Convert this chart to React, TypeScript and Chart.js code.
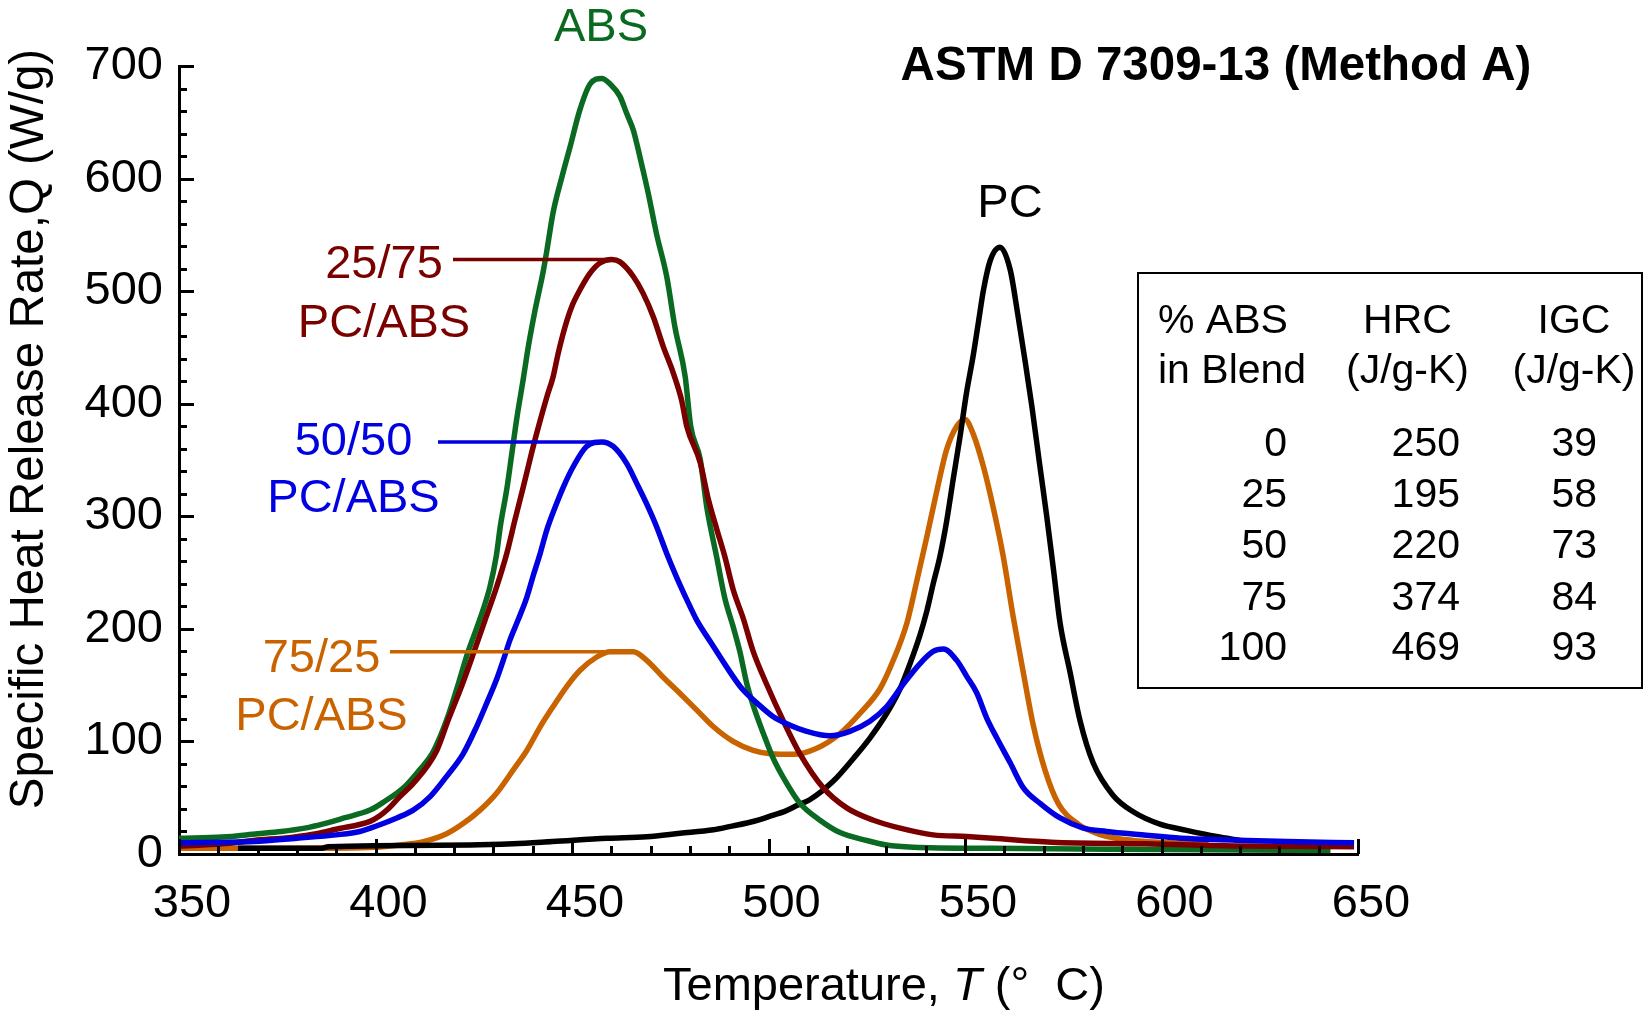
import { useEffect, useRef } from "react";
import { Chart, registerables } from "chart.js";

Chart.register(...registerables);

// ---------------- data ----------------
const T_ABS = [350, 361, 370, 376, 382, 387, 392, 398.6, 402, 407.5, 411.3, 414.7, 418.1, 420.8, 423.3, 426.6, 429.1, 430.7, 431.8, 433.4, 434.7, 436.0, 437.6, 438.9, 440.6, 442.7, 443.6, 445.2, 447.4, 449.5, 452.0, 454.6, 457.6, 459.7, 462.2, 463.9, 465.6, 466.9, 468.1, 469.4, 471.5, 474.1, 476.2, 478.8, 480.2, 482.6, 484.3, 486.8, 488.9, 491.0, 492.7, 494.5, 496.1, 498.7, 501.2, 504.6, 508.0, 513.1, 518.2, 525, 530, 536.8, 557, 600, 643];
const Q_ABS = [14, 15, 18, 20, 23, 27, 32, 39, 46, 60, 75, 91, 119, 148, 177, 209, 237, 264, 292, 324, 356, 388, 422, 451, 483, 518, 536, 570, 601, 628, 661, 684, 689, 684, 673, 658, 643, 625, 607, 587, 551, 513, 468, 424, 380, 351, 308, 264, 227, 202, 180, 151, 132, 107, 85, 63, 45, 30, 19, 12, 8, 6, 5, 4, 3];

const T_2575 = [350, 361, 369, 379, 385, 390, 398.6, 401.1, 402.9, 406.2, 409.7, 415.6, 418.5, 421.9, 424.9, 427.9, 430.8, 433.4, 435.5, 437.6, 439.7, 441.9, 443.6, 445.2, 446.5, 448.2, 449.9, 452.0, 454.6, 457.1, 460.1, 462.2, 465.6, 468.1, 470.7, 473.2, 475.8, 477.9, 479.2, 482.6, 484.7, 486.8, 488.9, 491.0, 493.6, 496.1, 499.5, 503.8, 508.0, 513.9, 519.9, 526.7, 533.5, 541.9, 550.4, 557, 572, 596, 620, 649];
const Q_2575 = [7, 9, 12, 15, 18, 22, 29, 34, 39, 51, 63, 92, 119, 149, 178, 208, 237, 267, 297, 326, 356, 385, 406, 424, 445, 468, 486, 501, 516, 525, 528, 526, 513, 498, 477, 451, 427, 403, 380, 348, 315, 289, 264, 235, 209, 180, 151, 118, 89, 59, 41, 30, 23, 17, 15.5, 14, 10.5, 9, 7, 6.5];

const T_5050 = [350, 369, 380, 390, 396, 401.1, 405.4, 409.6, 413.9, 418.1, 422.3, 425.7, 428.3, 430.8, 432.5, 434.2, 436.3, 438.5, 440.2, 441.9, 443.6, 445.7, 447.8, 450.3, 453.7, 457.6, 460.5, 463.9, 466.5, 469.0, 471.5, 474.1, 476.6, 479.2, 481.7, 485.5, 489.0, 493.0, 497.4, 501.2, 504.5, 509.7, 515.6, 520.7, 525.8, 530.1, 534.3, 538.5, 541.9, 544.5, 547.9, 550.4, 553.0, 555.5, 558.1, 561.5, 564.8, 569.1, 574.2, 580.1, 586, 595, 605, 618, 632, 649];
const Q_5050 = [10, 11, 14, 17, 20, 26, 32, 39, 51, 69, 89, 113, 134, 155, 172, 190, 208, 228, 248, 267, 288, 308, 326, 344, 362, 366, 362, 347, 329, 311, 291, 267, 246, 226, 208, 187, 168, 148, 133, 122, 116, 109, 105, 109, 118, 131, 151, 169, 180, 182, 172, 158, 143, 121, 103, 81, 59, 45, 32, 23, 20, 17, 14, 12.5, 11, 10];

const T_7525 = [350, 380, 400, 406.2, 412.2, 418.1, 422.3, 426.6, 430.8, 435.1, 438.5, 441.9, 445.2, 448.7, 452.0, 456.3, 459.7, 465.6, 469.0, 473.2, 477.5, 481.7, 486.0, 491.0, 496.1, 500.4, 506.3, 512.3, 518.2, 523.3, 528.4, 531.8, 535.2, 537.7, 540.3, 542.8, 545.3, 547.9, 550.0, 552.1, 554.7, 557.2, 559.7, 562.3, 564.8, 567.4, 570.4, 573.7, 578.8, 584.4, 592.8, 612];
const Q_7525 = [5, 5, 6, 8, 11, 18, 27, 39, 54, 75, 92, 113, 131, 149, 163, 175, 179.6, 179.6, 172, 157, 142.5, 128, 113, 100, 92, 89, 88.5, 94, 107, 125, 147, 172.5, 205, 242, 282, 322, 359, 380, 386, 373, 344, 307.5, 265, 210, 162, 114, 74, 45, 26.5, 17.3, 12, 9];

const T_PC = [365, 386, 388, 424, 435, 445, 459, 469, 477.5, 486, 491, 494.5, 497.8, 501.2, 503.8, 507.2, 510.6, 516.5, 521.6, 525.8, 530.1, 533.5, 536.0, 538.5, 540.3, 541.9, 543.6, 545.3, 547.0, 548.7, 550.4, 552.1, 553.4, 554.7, 556.4, 558.9, 561.5, 563.4, 565.2, 567.0, 569.0, 570.8, 572.5, 574.2, 576.7, 579.3, 582.6, 587.7, 592.8, 599.6, 606.4, 614, 620];
const Q_PC = [5, 5, 6.5, 8, 9, 11, 14, 15.4, 18.4, 21.5, 25, 27.5, 30.5, 34.6, 37.4, 43, 48.4, 64.8, 84.9, 103, 125, 147, 169, 194, 216, 240, 264, 295, 333, 370, 410, 443, 472, 501, 527, 539, 519, 480, 440, 398, 346, 300, 253, 205, 162, 118, 81, 52, 37.5, 26.5, 21, 15.5, 12];

const X_TICKS = [350, 400, 450, 500, 550, 600, 650];
const Y_TICKS = [0, 100, 200, 300, 400, 500, 600, 700];

// table
const TABLE_HEAD_1 = ["% ABS", "HRC", "IGC"];
const TABLE_HEAD_2 = ["in Blend", "(J/g-K)", "(J/g-K)"];
const ABS_PCT = [0, 25, 50, 75, 100];
const HRC = [250, 195, 220, 374, 469];
const IGC = [39, 58, 73, 84, 93];

// ---------------- styles ----------------
const FONT = "'Liberation Sans', Arial, Helvetica, sans-serif";
const GREEN = "#0b6a22";
const DARKRED = "#7a0000";
const BLUE = "#0000e0";
const ORANGE = "#c96300";
const BLACK = "#000000";

const W = 1651;
const H = 1010;

const toPts = (t: number[], q: number[]) => t.map((v, i) => ({ x: v, y: q[i] }));

// first (main) peak of a series within a temperature window
const peakOf = (t: number[], q: number[], tMax: number) => {
  let idx = 0;
  for (let i = 1; i < q.length; i++) if (t[i] <= tMax && q[i] > q[idx]) idx = i;
  return { x: t[idx], y: q[idx] };
};

const annotPlugin = {
  id: "annotations",
  afterDraw(chart: any) {
    const { ctx } = chart;
    const xs = chart.scales.x;
    const ys = chart.scales.y;
    ctx.save();

    // tick marks (inward)
    ctx.strokeStyle = "#000";
    ctx.lineWidth = 3;
    ctx.lineCap = "butt";
    const y0 = ys.getPixelForValue(0);
    const x0 = xs.getPixelForValue(350);
    ctx.beginPath();
    for (let v = 350; v <= 650; v += 10) {
      const px = Math.round(xs.getPixelForValue(v)) + 0.5;
      const len = v % 50 === 0 ? 15 : 8;
      ctx.moveTo(px, y0);
      ctx.lineTo(px, y0 - len);
    }
    for (let v = 0; v <= 700; v += 20) {
      const py = Math.round(ys.getPixelForValue(v)) + 0.5;
      const len = v % 100 === 0 ? 15 : 8;
      ctx.moveTo(x0, py);
      ctx.lineTo(x0 + len, py);
    }
    ctx.stroke();

    // leader lines to the first peaks
    const leaders = [
      { start: 453, t: T_2575, q: Q_2575, color: DARKRED },
      { start: 438, t: T_5050, q: Q_5050, color: BLUE },
      { start: 390, t: T_7525, q: Q_7525, color: ORANGE },
    ];
    ctx.lineWidth = 3.5;
    for (const l of leaders) {
      const p = peakOf(l.t, l.q, 500);
      const py = ys.getPixelForValue(p.y);
      ctx.strokeStyle = l.color;
      ctx.beginPath();
      ctx.moveTo(l.start, py);
      ctx.lineTo(xs.getPixelForValue(p.x), py);
      ctx.stroke();
    }

    // labels
    ctx.textBaseline = "alphabetic";
    ctx.textAlign = "center";
    const labels = [
      { text: "ABS", x: 601, y: 41, color: GREEN },
      { text: "PC", x: 1010, y: 217, color: BLACK },
      { text: "25/75", x: 384, y: 278, color: DARKRED },
      { text: "PC/ABS", x: 384, y: 337, color: DARKRED },
      { text: "50/50", x: 353.5, y: 455, color: BLUE },
      { text: "PC/ABS", x: 353.5, y: 512, color: BLUE },
      { text: "75/25", x: 321.5, y: 672, color: ORANGE },
      { text: "PC/ABS", x: 321.5, y: 730, color: ORANGE },
    ];
    ctx.font = `47px ${FONT}`;
    for (const l of labels) {
      ctx.fillStyle = l.color;
      ctx.fillText(l.text, l.x, l.y);
    }

    // title
    ctx.fillStyle = "#000";
    ctx.font = `bold 47.5px ${FONT}`;
    ctx.fillText("ASTM D 7309-13 (Method A)", 1216, 80);

    // table
    ctx.strokeStyle = "#000";
    ctx.lineWidth = 2;
    ctx.strokeRect(1138, 273, 504, 415);
    ctx.font = `41px ${FONT}`;
    ctx.fillStyle = "#000";
    ctx.textAlign = "left";
    ctx.fillText(TABLE_HEAD_1[0], 1158, 333);
    ctx.fillText(TABLE_HEAD_2[0], 1158, 383);
    ctx.textAlign = "center";
    ctx.fillText(TABLE_HEAD_1[1], 1407.5, 333);
    ctx.fillText(TABLE_HEAD_2[1], 1407.5, 383);
    ctx.fillText(TABLE_HEAD_1[2], 1574, 333);
    ctx.fillText(TABLE_HEAD_2[2], 1574, 383);
    ctx.textAlign = "right";
    const rowY = [456, 507, 558, 610, 660];
    for (let i = 0; i < ABS_PCT.length; i++) {
      ctx.fillText(String(ABS_PCT[i]), 1287, rowY[i]);
      ctx.fillText(String(HRC[i]), 1460, rowY[i]);
      ctx.fillText(String(IGC[i]), 1597, rowY[i]);
    }

    // x-axis title with italic T
    ctx.textAlign = "left";
    ctx.font = `47px ${FONT}`;
    let cx = 663;
    const part1 = "Temperature, ";
    ctx.fillText(part1, cx, 1000);
    cx += ctx.measureText(part1).width;
    ctx.font = `italic 47px ${FONT}`;
    ctx.fillText("T", cx, 1000);
    cx += ctx.measureText("T").width;
    ctx.font = `47px ${FONT}`;
    ctx.fillText(" (\u00B0  C)", cx, 1000);

    // y-axis title
    ctx.save();
    ctx.translate(43, 429);
    ctx.rotate(-Math.PI / 2);
    ctx.textAlign = "center";
    ctx.font = `47.5px ${FONT}`;
    ctx.fillText("Specific Heat Release Rate,Q (W/g)", 0, 0);
    ctx.restore();

    ctx.restore();
  },
};

export default function App() {
  const ref = useRef<HTMLCanvasElement | null>(null);

  useEffect(() => {
    if (!ref.current) return;
    const mk = (label: string, t: number[], q: number[], color: string) => ({
      label,
      data: toPts(t, q),
      borderColor: color,
      backgroundColor: color,
      borderWidth: 5.5,
      pointRadius: 0,
      fill: false,
      cubicInterpolationMode: "monotone" as const,
    });
    const chart = new Chart(ref.current, {
      type: "line",
      data: {
        datasets: [
          mk("50/50 PC/ABS", T_5050, Q_5050, BLUE),
          mk("25/75 PC/ABS", T_2575, Q_2575, DARKRED),
          mk("ABS", T_ABS, Q_ABS, GREEN),
          mk("PC", T_PC, Q_PC, BLACK),
          mk("75/25 PC/ABS", T_7525, Q_7525, ORANGE),
        ],
      },
      options: {
        responsive: false,
        animation: false,
        layout: { padding: { top: 66, right: W - 1358, left: 0, bottom: 0 } },
        plugins: { legend: { display: false }, tooltip: { enabled: false }, title: { display: false } },
        scales: {
          x: {
            type: "linear",
            min: 350,
            max: 650,
            afterFit: (s: any) => {
              s.height = H - 854;
            },
            afterBuildTicks: (s: any) => {
              s.ticks = X_TICKS.map((v) => ({ value: v }));
            },
            grid: { display: false, drawTicks: false },
            border: { display: true, color: "#000", width: 3 },
            ticks: {
              padding: 22,
              labelOffset: 13,
              color: "#000",
              maxRotation: 0,
              autoSkip: false,
              font: { family: FONT, size: 47 },
            },
          },
          y: {
            type: "linear",
            min: 0,
            max: 700,
            afterFit: (s: any) => {
              s.width = 179;
            },
            afterBuildTicks: (s: any) => {
              s.ticks = Y_TICKS.map((v) => ({ value: v }));
            },
            grid: { display: false, drawTicks: false },
            border: { display: true, color: "#000", width: 3 },
            ticks: {
              padding: 16,
              color: "#000",
              autoSkip: false,
              font: { family: FONT, size: 47 },
            },
          },
        },
      },
      plugins: [annotPlugin],
    });
    return () => chart.destroy();
  }, []);

  return (
    <div style={{ position: "fixed", left: 0, top: 0, width: W, height: H, background: "#fff" }}>
      <canvas ref={ref} width={W} height={H} style={{ display: "block" }} />
    </div>
  );
}
